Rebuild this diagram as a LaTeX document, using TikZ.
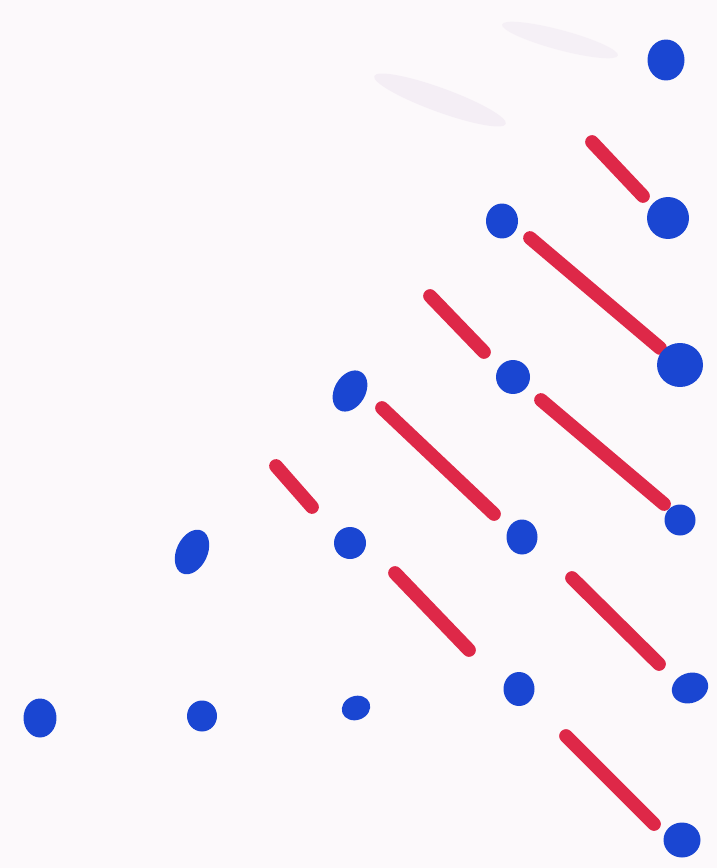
\documentclass[tikz,border=0pt]{standalone}
\usetikzlibrary{shapes.geometric}
\definecolor{paper}{RGB}{252,249,251}
\definecolor{smudge}{RGB}{240,232,242}
\definecolor{dotblue}{RGB}{26,70,210}
\definecolor{penred}{RGB}{222,40,72}
\begin{document}
\begin{tikzpicture}[x=0.02cm,y=-0.02cm,
  dot/.style={ellipse,fill=dotblue,inner sep=0pt},
  stroke/.style={penred,line width=7.8pt,line cap=round}]
\fill[paper] (0,0) rectangle (717,868);
\useasboundingbox (0,0) rectangle (717,868);
% faint smudges
\fill[smudge,opacity=0.6] (440,100) ellipse [x radius=70,y radius=12,rotate=-20];
\fill[smudge,opacity=0.5] (560,40) ellipse [x radius=60,y radius=10,rotate=-15];
% red strokes
\draw[stroke] (592,142) -- (643,196);
\draw[stroke] (530,238) -- (660,348);
\draw[stroke] (430,296) -- (484,352);
\draw[stroke] (382,408) -- (494,514);
\draw[stroke] (541,400) -- (664,504);
\draw[stroke] (276,466) -- (312,507);
\draw[stroke] (395,573) -- (469,650);
\draw[stroke] (572,578) -- (659,664);
\draw[stroke] (566,736) -- (654,824);
% blue dots
\node[dot,minimum width=0.74cm,minimum height=0.82cm] (a1) at (666,60) {};
\node[dot,minimum width=0.84cm,minimum height=0.84cm] (b1) at (668,218) {};
\node[dot,minimum width=0.64cm,minimum height=0.7cm] (b2) at (502,221) {};
\node[dot,minimum width=0.92cm,minimum height=0.88cm] (c1) at (680,365) {};
\node[dot,minimum width=0.68cm,minimum height=0.68cm] (c2) at (513,377) {};
\node[dot,minimum width=0.62cm,minimum height=0.88cm,rotate=-30] (c3) at (350,391) {};
\node[dot,minimum width=0.62cm,minimum height=0.62cm] (d1) at (680,520) {};
\node[dot,minimum width=0.62cm,minimum height=0.7cm] (d2) at (522,537) {};
\node[dot,minimum width=0.64cm,minimum height=0.64cm] (d3) at (350,543) {};
\node[dot,minimum width=0.62cm,minimum height=0.94cm,rotate=-25] (d4) at (192,552) {};
\node[dot,minimum width=0.74cm,minimum height=0.6cm,rotate=20] (e1) at (690,688) {};
\node[dot,minimum width=0.62cm,minimum height=0.68cm] (e2) at (519,689) {};
\node[dot,minimum width=0.58cm,minimum height=0.48cm,rotate=20] (e3) at (356,708) {};
\node[dot,minimum width=0.6cm,minimum height=0.62cm] (e4) at (202,716) {};
\node[dot,minimum width=0.66cm,minimum height=0.78cm] (e5) at (40,718) {};
\node[dot,minimum width=0.74cm,minimum height=0.7cm] (f1) at (682,840) {};
\end{tikzpicture}
\end{document}
